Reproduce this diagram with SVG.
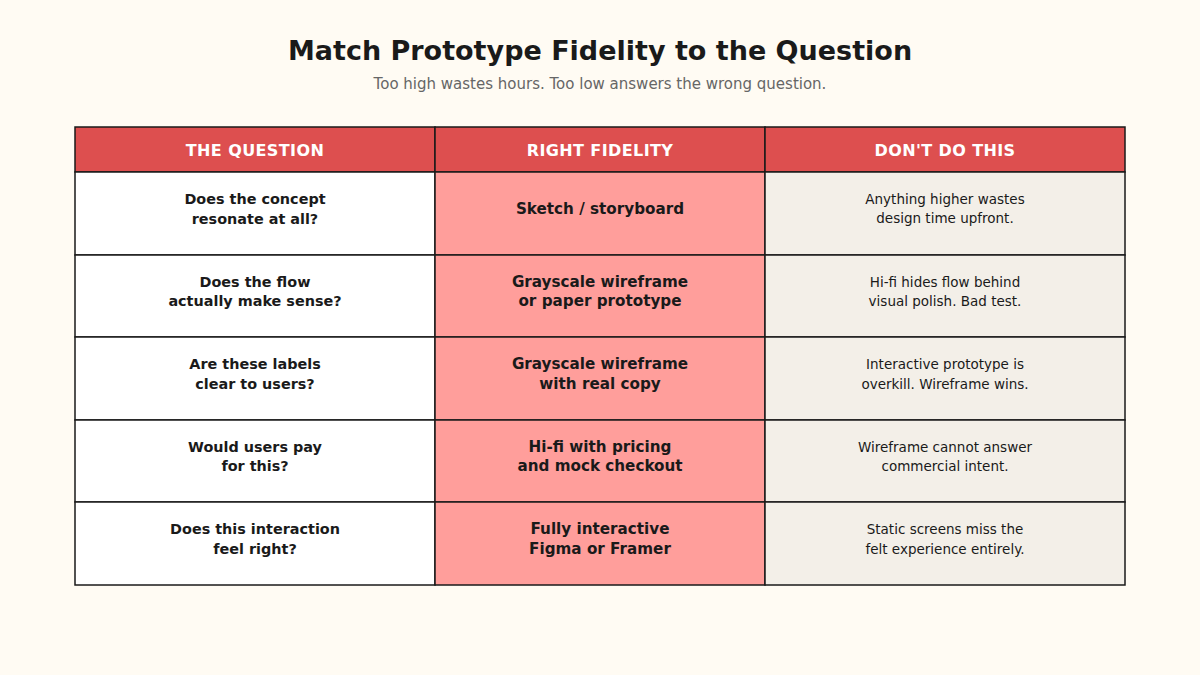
<svg xmlns="http://www.w3.org/2000/svg" width="1200" height="675" viewBox="0 0 1200 675">
<style>
.t{font-family:"DejaVu Sans",sans-serif;text-anchor:middle}
.h{font-size:16px;font-weight:bold;fill:#fff;letter-spacing:0.4px}
.b{font-size:14.4px;font-weight:bold;fill:#1a1a1a}
.f{font-size:15.2px}
.r{font-size:13.5px;fill:#1a1a1a}
.c1{fill:#ffffff;stroke:#1a1a1a;stroke-width:1.5}
.c2{fill:#ff9e9b;stroke:#1a1a1a;stroke-width:1.5}
.c3{fill:#f3efe8;stroke:#1a1a1a;stroke-width:1.5}
.hd{fill:#dd4f4f;stroke:#1a1a1a;stroke-width:1.5}
</style>
<rect width="1200" height="675" fill="#fffbf3"/>
<text class="t" x="600" y="60" font-size="27" font-weight="bold" fill="#1a1a1a">Match Prototype Fidelity to the Question</text>
<text class="t" x="600" y="89" font-size="15" fill="#666">Too high wastes hours. Too low answers the wrong question.</text>
<g id="header">
<rect class="hd" x="75" y="127" width="360" height="45"/><rect class="hd" x="435" y="127" width="330" height="45"/><rect class="hd" x="765" y="127" width="360" height="45"/>
<text class="t h" x="255" y="156">THE QUESTION</text><text class="t h" x="600" y="156">RIGHT FIDELITY</text><text class="t h" x="945" y="156">DON'T DO THIS</text>
</g>
<g id="row1">
<rect class="c1" x="75" y="172" width="360" height="83"/><rect class="c2" x="435" y="172" width="330" height="83"/><rect class="c3" x="765" y="172" width="360" height="83"/>
<text class="t b" x="255" y="204">Does the concept</text><text class="t b" x="255" y="224">resonate at all?</text>
<text class="t b f" x="600" y="214">Sketch / storyboard</text>
<text class="t r" x="945" y="204">Anything higher wastes</text><text class="t r" x="945" y="223">design time upfront.</text>
</g>
<g id="row2">
<rect class="c1" x="75" y="255" width="360" height="82"/><rect class="c2" x="435" y="255" width="330" height="82"/><rect class="c3" x="765" y="255" width="360" height="82"/>
<text class="t b" x="255" y="287">Does the flow</text><text class="t b" x="255" y="306">actually make sense?</text>
<text class="t b f" x="600" y="287">Grayscale wireframe</text><text class="t b f" x="600" y="306">or paper prototype</text>
<text class="t r" x="945" y="287">Hi-fi hides flow behind</text><text class="t r" x="945" y="306">visual polish. Bad test.</text>
</g>
<g id="row3">
<rect class="c1" x="75" y="337" width="360" height="83"/><rect class="c2" x="435" y="337" width="330" height="83"/><rect class="c3" x="765" y="337" width="360" height="83"/>
<text class="t b" x="255" y="369">Are these labels</text><text class="t b" x="255" y="389">clear to users?</text>
<text class="t b f" x="600" y="369">Grayscale wireframe</text><text class="t b f" x="600" y="389">with real copy</text>
<text class="t r" x="945" y="369">Interactive prototype is</text><text class="t r" x="945" y="389">overkill. Wireframe wins.</text>
</g>
<g id="row4">
<rect class="c1" x="75" y="420" width="360" height="82"/><rect class="c2" x="435" y="420" width="330" height="82"/><rect class="c3" x="765" y="420" width="360" height="82"/>
<text class="t b" x="255" y="452">Would users pay</text><text class="t b" x="255" y="471">for this?</text>
<text class="t b f" x="600" y="452">Hi-fi with pricing</text><text class="t b f" x="600" y="471">and mock checkout</text>
<text class="t r" x="945" y="452">Wireframe cannot answer</text><text class="t r" x="945" y="471">commercial intent.</text>
</g>
<g id="row5">
<rect class="c1" x="75" y="502" width="360" height="83"/><rect class="c2" x="435" y="502" width="330" height="83"/><rect class="c3" x="765" y="502" width="360" height="83"/>
<text class="t b" x="255" y="534">Does this interaction</text><text class="t b" x="255" y="554">feel right?</text>
<text class="t b f" x="600" y="534">Fully interactive</text><text class="t b f" x="600" y="554">Figma or Framer</text>
<text class="t r" x="945" y="534">Static screens miss the</text><text class="t r" x="945" y="554">felt experience entirely.</text>
</g>
<g id="connectors"/>
</svg>
